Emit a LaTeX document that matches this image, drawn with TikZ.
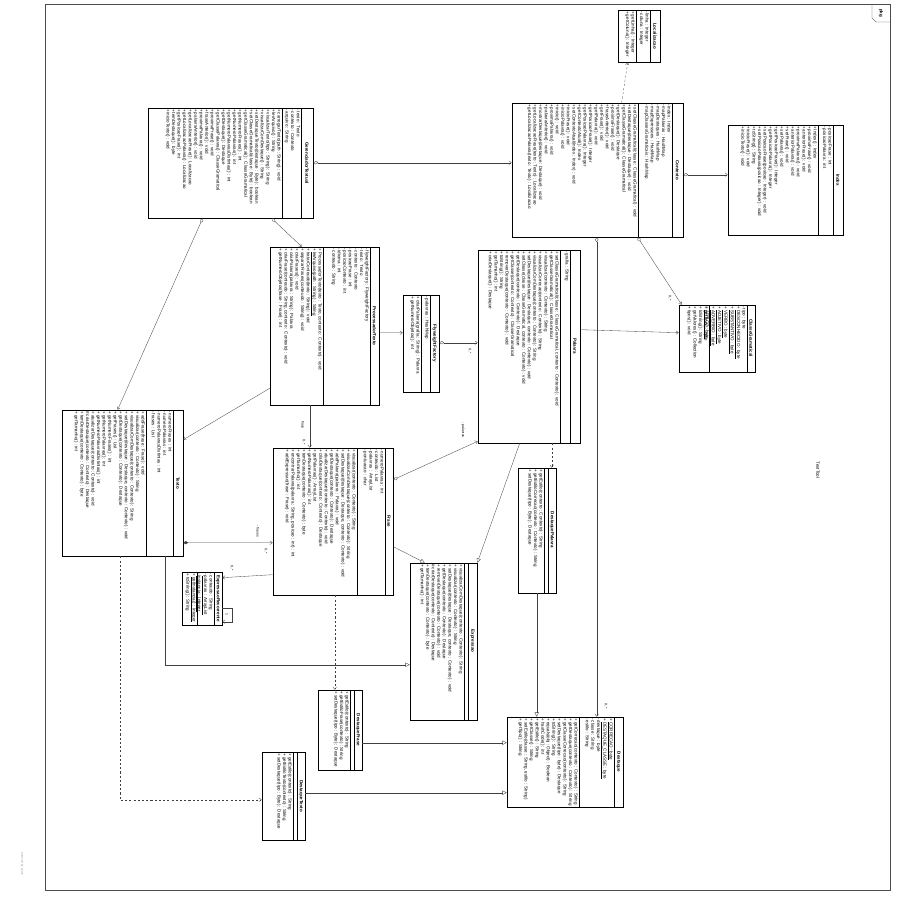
\documentclass[tikz,border=0pt]{standalone}
\usepackage{fontspec}
\setmainfont{Liberation Sans}
\usetikzlibrary{arrows.meta,calc,fit}
\begin{document}
\begin{tikzpicture}[
  x=0.05cm, y=-0.05cm,
  font=\fontsize{6.4}{7.9}\selectfont,
  classbox/.style={draw, line width=0.9pt, inner sep=0pt},
  classname/.style={rotate=-90, font=\fontsize{6.4}{7.9}\selectfont\bfseries, inner sep=0pt},
  members/.style={rotate=-90, anchor=north west, align=left, inner sep=1.4pt},
  divider/.style={line width=0.5pt},
  rolelabel/.style={rotate=-90, font=\fontsize{5}{6}\selectfont, inner sep=1pt},
  link/.style={draw=black!75, line width=0.45pt},
  navig/.style={link, -{Straight Barb[length=3.5pt,width=5pt]}},
  inherit/.style={link, -{Triangle[open,length=6pt,width=6pt]}},
  depend/.style={link, dashed, -{Straight Barb[length=3.5pt,width=5pt]}},
  aggr/.style={link, {Diamond[open,length=7pt,width=4.5pt]}-{Straight Barb[length=3.5pt,width=5pt]}},
  compo/.style={link, {Diamond[length=7pt,width=4.5pt]}-{Straight Barb[length=3.5pt,width=5pt]}}
]
\useasboundingbox (0,0) rectangle (900,900);

% frame
\draw[black!70, line width=0.5pt] (45,4) rectangle (890,890);
\draw[black!70, line width=0.5pt] (872,4) -- (872,18) -- (876,22) -- (890,22);
\node[classname] (pkgtab) at (881,13) {pkg};
\node[rotate=-90] (tooltitle) at (818,470) {TextTool};
\node[rotate=-90, black!40, font=\fontsize{4}{5}\selectfont] (astah) at (22,864) {powered by Astah};

% GerenciadorTextual
\node[classbox, fit={(148,108) (313,218)}] (gt) {};
\draw[divider] (301,108) -- (301,218);
\draw[divider] (282,108) -- (282,218);
\node[classname] (gt-name) at (307,163) {GerenciadorTextual};
\node[members] (gt-attr) at (301,108) {- texto : Texto\\- contexto : Contexto\\- arquivo : String};
\node[members] (gt-ops) at (282,108) {+ carregarTexto(path : String) : void\\+ lerArquivo() : String\\+ visualizarTexto(tipo : String) : String\\+ visualizarComDestaque() : String\\+ setDestaqueTexto(destaque : Byte) : boolean\\+ setClasseGramatical(classe : Byte) : boolean\\+ getClasseGramatical() : ClasseGramatical\\+ getNumeroFrases() : int\\+ getNumeroPalavras() : int\\+ getNumeroPalavrasDistintas() : int\\+ getDestaque() : Destaque\\+ getClassePalavra() : ClasseGramatical\\+ proximaFrase() : void\\+ fraseAnterior() : void\\+ proximaPalavra() : void\\+ palavraAnterior() : void\\+ getLocalizacaoFrase() : Localizacao\\+ getLocalizacaoPalavra() : Localizacao\\+ getPosicaoFrase() : int\\+ temDestaque() : byte\\+ inicioTexto() : void};

% Contexto
\node[classbox, fit={(512,103) (683,237)}] (ctx) {};
\draw[divider] (672,103) -- (672,237);
\draw[divider] (638,103) -- (638,237);
\node[classname] (ctx-name) at (677.5,170) {Contexto};
\node[members] (ctx-attr) at (672,103) {- index : Index\\- mapPalavras : HashMap\\- mapDestaques : HashMap\\- mapExpressoes : HashMap\\- mapClassesGramaticais : HashMap};
\node[members] (ctx-ops) at (638,103) {+ setClasseGramatical(classe : ClasseGramatical) : void\\+ setDestaque(destaque : Destaque) : void\\+ getClasseGramatical() : ClasseGramatical\\+ getDestaque() : Destaque\\+ proximaFrase() : void\\+ fraseAnterior() : void\\+ getFrase() : void\\+ getPalavra() : void\\+ getPosicaoFrase() : Integer\\+ getPosicaoPalavra() : Integer\\+ getContextoAtual() : Index\\+ setContextoAtual(index : Index) : void\\+ inicioFrase() : void\\+ inicioPalavra() : void\\+ inicio() : void\\+ proximaPalavra() : void\\+ palavraAnterior() : void\\+ mostrarDestaque(destaque : Destaque) : void\\+ getLocalizacaoFrase(texto : Texto) : Localizacao\\+ getLocalizacaoPalavra(texto : Texto) : Localizacao};

% Localizacao
\node[classbox, fit={(618,10) (660,62)}] (loc) {};
\draw[divider] (650,10) -- (650,62);
\draw[divider] (636,10) -- (636,62);
\node[classname] (loc-name) at (655,36) {Localizacao};
\node[members] (loc-attr) at (650,10) {- linha : Integer\\- coluna : Integer};
\node[members] (loc-ops) at (636,10) {+ getLinha() : Integer\\+ getColuna() : Integer};

% Index
\node[classbox, fit={(728,125) (843,235)}] (idx) {};
\draw[divider] (833,125) -- (833,235);
\draw[divider] (818,125) -- (818,235);
\node[classname] (idx-name) at (838,180) {Index};
\node[members] (idx-attr) at (833,125) {- posicaoFrase : int\\- posicaoPalavra : int};
\node[members] (idx-ops) at (818,125) {+ Index() : Index\\+ proximaFrase() : void\\+ anteriorFrase() : void\\+ proximaPalavra() : void\\+ anteriorPalavra() : void\\+ setFrase() : void\\+ setPalavra() : void\\+ getPosicaoFrase() : Integer\\+ getPosicaoPalavra() : Integer\\+ setPosicaoFrase(posicao : Integer) : void\\+ setPosicaoPalavra(posicao : Integer) : void\\+ toString() : String\\+ inicioFrase() : void\\+ inicioTexto() : void};

% ProcessadorTexto
\node[classbox, fit={(270,247) (379,405)}] (pt) {};
\draw[divider] (370,247) -- (370,405);
\draw[divider] (323,247) -- (323,405);
\node[classname] (pt-name) at (374.5,326) {ProcessadorTexto};
\node[members] (pt-attr) at (370,247) {- flyweightFactory : FlyweightFactory\\- texto : Texto\\- contexto : Contexto\\- posicaoFrase : int\\- posicaoContexto : int\\- idioma : int\\- conteudo : String};
\node[members] (pt-ops) at (323,247) {+ ProcessadorTexto(texto : Texto, contexto : Contexto) : void\\+ \underline{lerArquivo(path : String) : String}\\+ tratarConteudo(texto : String) : void\\+ separarFrases(conteudo : String) : void\\+ criarFrases() : void\\+ criarPalavra(palavra : String) : Palavra\\+ criarFrase(conteudo : String, contexto : Contexto) : void\\+ getNumeroObjetos(frase : Frase) : int};

% FlyweightFactory
\node[classbox, fit={(403,295) (439,392)}] (ff) {};
\draw[divider] (430,295) -- (430,392);
\draw[divider] (421,295) -- (421,392);
\node[classname] (ff-name) at (434.5,343) {FlyweightFactory};
\node[members] (ff-attr) at (430,295) {- palavras : HashMap};
\node[members] (ff-ops) at (421,295) {+ criarPalavra(grafia : String) : Palavra\\+ getNumeroObjetos() : int};

% Palavra
\node[classbox, fit={(478,250) (580,443)}] (pal) {};
\draw[divider] (570,250) -- (570,443);
\draw[divider] (560,250) -- (560,443);
\node[classname] (pal-name) at (575,346) {Palavra};
\node[members] (pal-attr) at (570,250) {- grafia : String};
\node[members] (pal-ops) at (560,250) {+ setClasseGramatical(classe : ClasseGramatical, contexto : Contexto) : void\\+ getClasseGramatical() : ClasseGramatical\\+ visualizar(contexto : Contexto) : String\\+ visualizarCorrecao(contexto : Contexto) : String\\+ visualizarComDestaque(contexto : Contexto) : String\\+ setDestaque(destaque : Destaque, contexto : Contexto) : void\\+ setClasse(classe : ClasseGramatical, contexto : Contexto) : void\\+ getDestaque(contexto : Contexto) : Destaque\\+ getClasse(contexto : Contexto) : ClasseGramatical\\+ removerDestaque(contexto : Contexto) : void\\+ toString() : String\\+ getTamanho() : int\\+ criarDestaque() : Destaque};

% ClasseGramatical
\node[classbox, fit={(679,305) (755,372)}] (cg) {};
\draw[divider] (747,305) -- (747,372);
\draw[divider] (709,305) -- (709,372);
\node[classname] (cg-name) at (751,338) {ClasseGramatical};
\node[members] (cg-attr) at (747,305) {- tipo : byte\\+ \underline{DESCONHECIDO : byte}\\+ \underline{SUBSTANTIVO : byte}\\+ \underline{VERBO : byte}\\+ \underline{ADJETIVO : byte}\\+ \underline{ADVERBIO : byte}\\+ \underline{ARTIGO : byte}};
\node[members] (cg-ops) at (709,305) {+ getTipo() : byte\\+ toString() : String\\+ getValores() : Collection\\+ tipos() : void};

% Texto
\node[classbox, fit={(62,410) (183,556)}] (txt) {};
\draw[divider] (173,410) -- (173,556);
\draw[divider] (146,410) -- (146,556);
\node[classname] (txt-name) at (178,483) {Texto};
\node[members] (txt-attr) at (173,410) {- numeroFrases : int\\- numeroPalavras : int\\- numeroPalavrasDistintas : int\\- frases : List};
\node[members] (txt-ops) at (146,410) {+ addFrase(frase : Frase) : void\\+ visualizar(contexto : Contexto) : String\\+ visualizarComDestaque(contexto : Contexto) : String\\+ setDestaque(destaque : Destaque, contexto : Contexto) : void\\+ getDestaque(contexto : Contexto) : Destaque\\+ getFrases() : List\\+ getNumeroFrases() : int\\+ getNumeroPalavras() : int\\+ getNumeroPalavrasDistintas() : int\\+ atualizarDestaque(contexto : Contexto) : void\\\# criarDestaque(contexto : Contexto) : Destaque\\+ temDestaque(contexto : Contexto) : byte\\+ getTamanho() : int};

% Frase
\node[classbox, fit={(273,448) (393,595)}] (fr) {};
\draw[divider] (385,448) -- (385,595);
\draw[divider] (357,448) -- (357,595);
\node[classname] (fr-name) at (389,521) {Frase};
\node[members] (fr-attr) at (385,448) {- numeroPalavras : int\\- conteudo : List\\- palavras : ArrayList\\- pontuacao : char};
\node[members] (fr-ops) at (357,448) {+ visualizar(contexto : Contexto) : String\\+ visualizarComDestaque(contexto : Contexto) : String\\+ setDestaque(destaque : Destaque, contexto : Contexto) : void\\+ addPalavra(palavra : Palavra) : void\\+ getDestaque(contexto : Contexto) : Destaque\\+ atualizarDestaque(contexto : Contexto) : void\\+ criarDestaque(contexto : Contexto) : Destaque\\+ getPalavras() : ArrayList\\+ getNumeroPalavras() : int\\+ temDestaque(contexto : Contexto) : byte\\+ getTamanho() : int\\+ encontrarPalavra(palavra : String, posicao : int) : int\\+ addExpressao(frase : Frase) : void};

% ExpressaoRecorrente
\node[classbox, fit={(182,572) (222,625)}] (er) {};
\draw[divider] (214,572) -- (214,625);
\draw[divider] (197,572) -- (197,625);
\node[classname] (er-name) at (218,598.5) {ExpressaoRecorrente};
\node[members] (er-attr) at (214,572) {- conteudo : String\\- \underline{palavras : ArrayList}\\- \underline{instancia : Integer}};
\node[members] (er-ops) at (197,572) {+ \underline{getInstancia() : Integer}\\+ toString() : String};

% Expressao
\node[classbox, fit={(410,563) (477,720)}] (exp) {};
\draw[divider] (468,563) -- (468,720);
\draw[divider] (464,563) -- (464,720);
\node[classname] (exp-name) at (472.5,641) {Expressao};
\node[members] (exp-ops) at (464,563) {+ visualizarComDestaque(contexto : Contexto) : String\\+ visualizar(contexto : Contexto) : String\\+ setDestaque(destaque : Destaque, contexto : Contexto) : void\\+ getDestaque(contexto : Contexto) : Destaque\\+ removerDestaque(contexto : Contexto) : void\\\# criarDestaque(contexto : Contexto) : Destaque\\+ temDestaque(contexto : Contexto) : byte\\+ getTamanho() : int};

% DestaquePalavra
\node[classbox, fit={(518,468) (556,593)}] (dp) {};
\draw[divider] (548,468) -- (548,593);
\draw[divider] (544,468) -- (544,593);
\node[classname] (dp-name) at (552,530) {DestaquePalavra};
\node[members] (dp-ops) at (544,468) {+ getEstilo(contexto : Contexto) : String\\+ getEstiloCorrecao(contexto : Contexto) : String\\+ setDestaque(tipo : Byte) : Destaque};

% Destaque
\node[classbox, fit={(507,717) (623,807)}] (dst) {};
\draw[divider] (614,717) -- (614,807);
\draw[divider] (579,717) -- (579,807);
\node[classname] (dst-name) at (618.5,762) {Destaque};
\node[members] (dst-attr) at (614,717) {+ \underline{CORRECAO : byte}\\+ \underline{DESTAQUE\_CLASSE : byte}\\- destaque : byte\\- classe : String\\- estilo : String};
\node[members] (dst-ops) at (579,717) {+ getCorrecao(contexto : Contexto) : String\\+ getDestaque(contexto : Contexto) : String\\+ getClasseCorrecao(contexto) : String\\+ setDestaque(tipo : byte) : Destaque\\+ toString() : String\\+ equals(obj : Object) : Boolean\\+ hashCode() : int\\+ getEstilo() : String\\+ getClasse() : String\\+ setEstilo(classe : String, estilo : String)\\+ getTipo() : String};

% DestaqueFrase
\node[classbox, fit={(318,690) (362,770)}] (df) {};
\draw[divider] (354,690) -- (354,770);
\draw[divider] (350,690) -- (350,770);
\node[classname] (df-name) at (358,730) {DestaqueFrase};
\node[members] (df-ops) at (350,690) {+ getEstilo(contexto) : String\\+ getEstiloFrase(contexto) : String\\+ setDestaque(tipo : Byte) : Destaque};

% DestaqueTexto
\node[classbox, fit={(262,752) (305,840)}] (dt) {};
\draw[divider] (297,752) -- (297,840);
\draw[divider] (293,752) -- (293,840);
\node[classname] (dt-name) at (301,796) {DestaqueTexto};
\node[members] (dt-ops) at (293,752) {+ getEstilo(contexto) : String\\+ getEstiloTexto(contexto) : String\\+ setDestaque(tipo : Byte) : Destaque};

% connectors
\draw[aggr] ($(gt.north east)+(0,55)$) -- ($(ctx.north west)+(0,60)$);
\draw[aggr] ($(gt.south west)+(55,0)$) -- ($(txt.north west)+(56,0)$);
\draw[aggr] ($(gt.south west)+(124,0)$) -- ($(pt.north west)+(32,0)$);
\draw[navig] ($(pt.north east)+(0,86)$) -- ($(ff.north west)+(0,38)$);
\draw[aggr] ($(ff.north east)+(0,48)$) -- ($(pal.north west)+(0,93)$);
\node[rolelabel] (m-ffpal) at (470,351) {0..*};
\draw[navig] ($(pt.south west)+(0,-17)$) -- ($(txt.north east)+(0,30)$);
\draw[navig] ($(pt.south west)+(40,0)$) -- ($(fr.north west)+(37,0)$);
\node[rolelabel] (r-ptfr) at (303,425) {frase};
\node[rolelabel] (m-ptfr) at (304,442) {0..*};
\draw[compo] ($(txt.north east)+(0,133)$) -- ($(fr.north west)+(0,95)$);
\node[rolelabel] (r-txtfr) at (258,531) {- frases};
\node[rolelabel] (m-txtfr) at (266,551) {0..*};
\draw[navig] ($(fr.north west)+(0,127)$) -- ($(er.north east)+(0,6)$);
\node[rolelabel] (m-frer) at (232,568) {0..*};
\draw[navig] ($(er.north east)+(0,36)$) -- ++(10,0) |- ($(er.north east)+(0,50)$);
\node[rolelabel] (m-erer) at (227,614) {1};
\draw[inherit] ($(txt.south west)+(103,0)$) |- ($(exp.north west)+(0,102)$);
\draw[depend] ($(txt.south west)+(58,0)$) |- ($(dt.north west)+(0,48)$);
\draw[depend] ($(fr.south west)+(62,0)$) -- ($(df.north west)+(17,0)$);
\draw[aggr] ($(fr.north east)+(0,32)$) -- ($(pal.south west)+(0,-2)$);
\node[rolelabel] (r-frpal) at (463,430) {- palavras};
\draw[inherit] ($(fr.north east)+(0,99)$) -- ($(exp.north west)+(15,0)$);
\draw[inherit] ($(pal.south west)+(42,0)$) -- (exp.north east);
\draw[depend] ($(pal.south west)+(74,0)$) -- ($(dp.north west)+(34,0)$);
\draw[inherit] ($(dp.south west)+(19,0)$) -- ($(dst.north west)+(30,0)$);
\draw[inherit] ($(df.north east)+(0,53)$) -- ($(dst.north west)+(0,26)$);
\draw[inherit] ($(dt.north east)+(0,41)$) -- ($(dst.north west)+(0,76)$);
\draw[aggr] ($(ctx.south west)+(85,0)$) -- ($(dst.north west)+(90,0)$);
\node[rolelabel] (m-ctxdst) at (606,706) {0..*};
\draw[aggr] ($(ctx.south west)+(126,0)$) -- ($(cg.north west)+(3,0)$);
\node[rolelabel] (m-ctxcg) at (670,298) {0..*};
\draw[navig] ($(pal.north east)+(0,80)$) -- ($(cg.north west)+(0,28)$);
\draw[depend] ($(ctx.north west)+(110,0)$) -- ($(loc.south west)+(10,0)$);
\draw[aggr] ($(ctx.north east)+(0,72)$) -- ($(idx.north west)+(0,50)$);
\end{tikzpicture}
\end{document}
